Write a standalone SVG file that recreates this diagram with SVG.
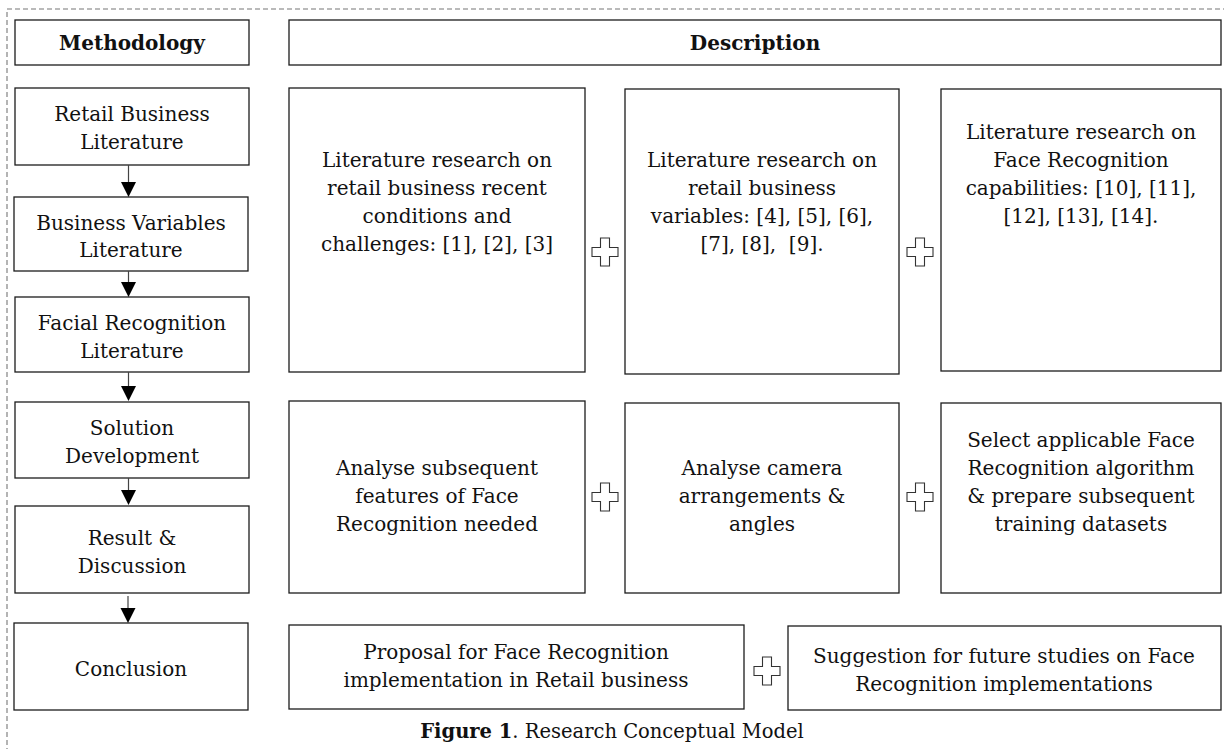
<svg xmlns="http://www.w3.org/2000/svg" xmlns:xlink="http://www.w3.org/1999/xlink" width="1224" height="749" viewBox="0 0 1224 749">
<style>
.box{fill:#fff;stroke:#1c1c1c;stroke-width:1.3}
.t{font-family:"DejaVu Serif","Liberation Serif",serif;font-size:20px;fill:#111;text-anchor:middle}
.b{font-weight:bold}
.plus{fill:#fff;stroke:#333;stroke-width:1.1}
.con{stroke:#444;stroke-width:1.2;fill:none}
.head{fill:#000}
</style>
<defs>
<path id="plus" class="plus" d="M-4.5,-14 h9 v9.5 h8.5 v9 h-8.5 v9.5 h-9 v-9.5 h-8.5 v-9 h8.5 z"/>
<path id="ah" d="M-7.5,0 L7.5,0 L0,15 z"/>
</defs>
<rect x="7" y="9" width="1240" height="780" fill="none" stroke="#777" stroke-width="1.1" stroke-dasharray="5,3"/>

<g id="methodology-header"><rect class="box" x="15" y="20" width="234" height="45"/><text class="t b" x="132" y="50">Methodology</text></g>
<g id="description-header"><rect class="box" x="289" y="20" width="932" height="45"/><text class="t b" x="755" y="50">Description</text></g>

<g id="retail-lit"><rect class="box" x="15" y="88" width="234" height="77"/><text class="t" x="132" y="121">Retail Business</text><text class="t" x="132" y="149">Literature</text></g>
<g id="business-var-lit"><rect class="box" x="14" y="197" width="234" height="74"/><text class="t" x="131" y="230">Business Variables</text><text class="t" x="131" y="257">Literature</text></g>
<g id="facial-lit"><rect class="box" x="15" y="297" width="234" height="75"/><text class="t" x="132" y="330">Facial Recognition</text><text class="t" x="132" y="358">Literature</text></g>
<g id="solution-dev"><rect class="box" x="15" y="402" width="234" height="76"/><text class="t" x="132" y="435">Solution</text><text class="t" x="132" y="463">Development</text></g>
<g id="result-disc"><rect class="box" x="15" y="506" width="234" height="87"/><text class="t" x="132" y="545">Result &amp;</text><text class="t" x="132" y="573">Discussion</text></g>
<g id="conclusion"><rect class="box" x="14" y="623" width="234" height="87"/><text class="t" x="131" y="676">Conclusion</text></g>

<g id="connectors">
<line class="con" x1="128.5" y1="165" x2="128.5" y2="183"/><use xlink:href="#ah" href="#ah" x="128.5" y="182"/>
<line class="con" x1="128.5" y1="271" x2="128.5" y2="283"/><use xlink:href="#ah" href="#ah" x="128.5" y="282"/>
<line class="con" x1="128.5" y1="372" x2="128.5" y2="387"/><use xlink:href="#ah" href="#ah" x="128.5" y="386"/>
<line class="con" x1="128.5" y1="478" x2="128.5" y2="491"/><use xlink:href="#ah" href="#ah" x="128.5" y="490"/>
<line class="con" x1="128" y1="596" x2="128" y2="609"/><use xlink:href="#ah" href="#ah" x="128" y="608"/>
</g>

<g id="d1"><rect class="box" x="289" y="88" width="296" height="284"/>
<text class="t" x="437" y="167">Literature research on</text><text class="t" x="437" y="195">retail business recent</text><text class="t" x="437" y="223">conditions and</text><text class="t" x="437" y="251">challenges: [1], [2], [3]</text></g>
<g id="d2"><rect class="box" x="625" y="89" width="274" height="285"/>
<text class="t" x="762" y="167">Literature research on</text><text class="t" x="762" y="195">retail business</text><text class="t" x="762" y="223">variables: [4], [5], [6],</text><text class="t" x="762" y="251" xml:space="preserve">[7], [8],  [9].</text></g>
<g id="d3"><rect class="box" x="941" y="89" width="280" height="282"/>
<text class="t" x="1081" y="139">Literature research on</text><text class="t" x="1081" y="167">Face Recognition</text><text class="t" x="1081" y="195">capabilities: [10], [11],</text><text class="t" x="1081" y="223">[12], [13], [14].</text></g>

<g id="d4"><rect class="box" x="289" y="401" width="296" height="192"/>
<text class="t" x="437" y="475">Analyse subsequent</text><text class="t" x="437" y="503">features of Face</text><text class="t" x="437" y="531">Recognition needed</text></g>
<g id="d5"><rect class="box" x="625" y="403" width="274" height="190"/>
<text class="t" x="762" y="475">Analyse camera</text><text class="t" x="762" y="503">arrangements &amp;</text><text class="t" x="762" y="531">angles</text></g>
<g id="d6"><rect class="box" x="941" y="403" width="280" height="190"/>
<text class="t" x="1081" y="447">Select applicable Face</text><text class="t" x="1081" y="475">Recognition algorithm</text><text class="t" x="1081" y="503">&amp; prepare subsequent</text><text class="t" x="1081" y="531">training datasets</text></g>

<g id="d7"><rect class="box" x="289" y="625" width="455" height="84"/>
<text class="t" x="516" y="659">Proposal for Face Recognition</text><text class="t" x="516" y="687">implementation in Retail business</text></g>
<g id="d8"><rect class="box" x="788" y="626" width="433" height="84"/>
<text class="t" x="1004" y="663">Suggestion for future studies on Face</text><text class="t" x="1004" y="691">Recognition implementations</text></g>

<g id="plus-signs">
<use xlink:href="#plus" href="#plus" x="605" y="252"/>
<use xlink:href="#plus" href="#plus" x="920" y="252"/>
<use xlink:href="#plus" href="#plus" x="605" y="497"/>
<use xlink:href="#plus" href="#plus" x="920" y="497"/>
<use xlink:href="#plus" href="#plus" x="767" y="671"/>
</g>

<g id="caption"><text class="t" x="612" y="738" style="font-size:19.5px"><tspan class="b">Figure 1</tspan>. Research Conceptual Model</text></g>
</svg>
